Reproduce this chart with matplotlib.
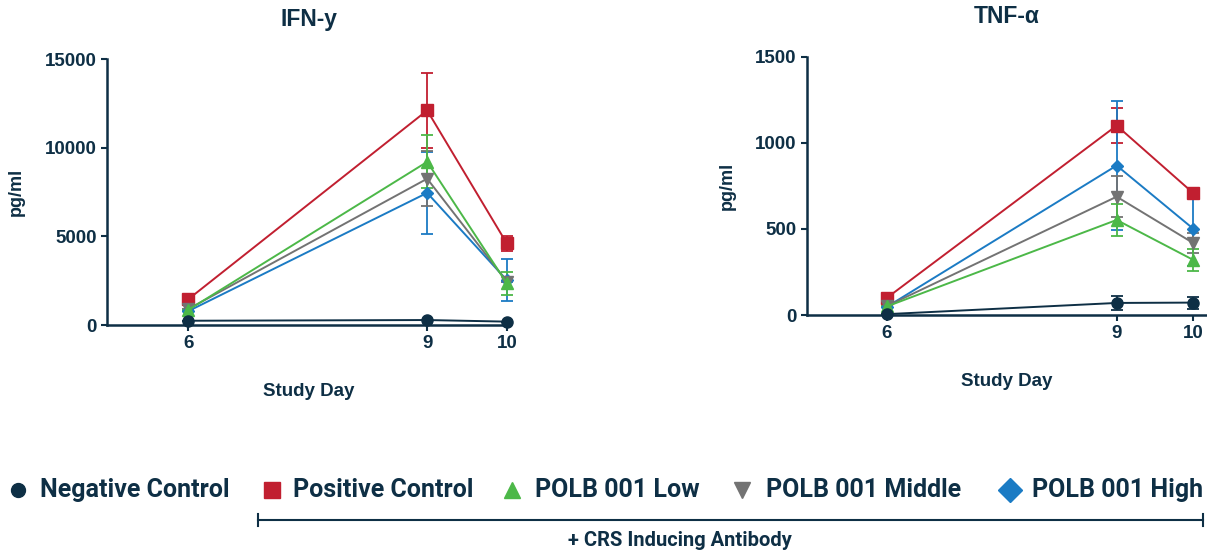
import matplotlib
matplotlib.use("Agg")
import matplotlib.pyplot as plt
from matplotlib import font_manager
from matplotlib.lines import Line2D

days = [6, 9, 10]
groups = ["Negative Control", "Positive Control", "POLB 001 Low",
          "POLB 001 Middle", "POLB 001 High"]

# IFN-y (pg/ml) mean and error per group, days 6, 9, 10
ifn_mean = {
    "Negative Control": [240, 280, 190],
    "Positive Control": [1450, 12100, 4600],
    "POLB 001 Low": [850, 9200, 2350],
    "POLB 001 Middle": [900, 8250, 2450],
    "POLB 001 High": [780, 7450, 2530],
}
ifn_err = {
    "Negative Control": [0, 0, 0],
    "Positive Control": [0, 2100, 400],
    "POLB 001 Low": [0, 1500, 650],
    "POLB 001 Middle": [0, 1550, 0],
    "POLB 001 High": [0, 2300, 1200],
}

# TNF-alpha (pg/ml)
tnf_mean = {
    "Negative Control": [5, 70, 72],
    "Positive Control": [100, 1100, 708],
    "POLB 001 Low": [50, 552, 320],
    "POLB 001 Middle": [52, 687, 418],
    "POLB 001 High": [48, 868, 501],
}
tnf_err = {
    "Negative Control": [0, 40, 35],
    "Positive Control": [0, 100, 0],
    "POLB 001 Low": [0, 95, 63],
    "POLB 001 Middle": [0, 120, 58],
    "POLB 001 High": [0, 375, 215],
}

colors = {
    "Negative Control": "#0e2f45",
    "Positive Control": "#c11f30",
    "POLB 001 Low": "#4cb848",
    "POLB 001 Middle": "#737373",
    "POLB 001 High": "#1b7bc4",
}
markers = {
    "Negative Control": "o",
    "Positive Control": "s",
    "POLB 001 Low": "^",
    "POLB 001 Middle": "v",
    "POLB 001 High": "D",
}
msizes = {"Negative Control": 8, "Positive Control": 8, "POLB 001 Low": 8,
          "POLB 001 Middle": 8, "POLB 001 High": 6}
draw_order = ["Positive Control", "POLB 001 High", "POLB 001 Middle",
              "POLB 001 Low", "Negative Control"]

navy = "#0e2f45"
installed = {f.name for f in font_manager.fontManager.ttflist}
narrow = "Liberation Sans Narrow" if "Liberation Sans Narrow" in installed else "Roboto"
plt.rcParams["font.family"] = ["Liberation Sans", "DejaVu Sans"]

W, H = 1207, 553
fig = plt.figure(figsize=(W / 100, H / 100), dpi=100)
ax1 = fig.add_axes([107 / W, (H - 325) / H, 403 / W, 266 / H])
ax2 = fig.add_axes([807 / W, (H - 315) / H, 400 / W, 258.3 / H])


def draw_panel(ax, means, errs, title, ymax, yticks, xlim):
    for g in draw_order:
        ax.errorbar(days, means[g], yerr=errs[g], color=colors[g],
                    marker=markers[g], markersize=msizes[g], lw=1.4,
                    capsize=4, elinewidth=1.3, capthick=1.3, clip_on=False)
    ax.set_xlim(*xlim)
    ax.set_ylim(0, ymax)
    ax.set_xticks(days)
    ax.set_yticks(yticks)
    ax.tick_params(colors=navy, labelsize=13.5, width=1.5, length=4)
    for lab in ax.get_xticklabels() + ax.get_yticklabels():
        lab.set_fontweight("bold")
    for s in ["top", "right"]:
        ax.spines[s].set_visible(False)
    for s in ["left", "bottom"]:
        ax.spines[s].set_color(navy)
        ax.spines[s].set_linewidth(1.8)
    ax.set_title(title, fontsize=16.5, fontweight="bold", color=navy, pad=24)
    ax.set_ylabel("pg/ml", fontsize=13, fontweight="bold", color=navy, labelpad=14)
    ax.set_xlabel("Study Day", fontsize=13.5, fontweight="bold", color=navy, labelpad=22)


draw_panel(ax1, ifn_mean, ifn_err, "IFN-y", 15000, [0, 5000, 10000, 15000], (4.98, 10.04))
draw_panel(ax2, tnf_mean, tnf_err, "TNF-α", 1500, [0, 500, 1000, 1500], (4.955, 10.18))

# legend row, placed entry by entry
leg_marker_x = [18, 272, 512, 742, 1010]
leg_text_x = [40, 293, 535, 766, 1032]
leg_y = 1 - 490 / H
for g, mx, tx in zip(groups, leg_marker_x, leg_text_x):
    fig.add_artist(Line2D([mx / W], [leg_y], ls="none", marker=markers[g],
                          color=colors[g],
                          markersize=10 if g == "Negative Control" else 12))
    fig.text(tx / W, leg_y, g, ha="left", va="center", fontsize=18,
             fontweight="bold", color=navy, family=narrow)

# bracket for antibody-treated groups
fig.add_artist(Line2D([258 / W, 1203 / W], [1 - 520 / H] * 2, color=navy, lw=1.5))
for xb in [258, 1203]:
    fig.add_artist(Line2D([xb / W] * 2, [1 - 514 / H, 1 - 526 / H], color=navy, lw=1.5))
fig.text(680 / W, 1 - 541 / H, "+ CRS Inducing Antibody", ha="center",
         va="center", fontsize=14.5, fontweight="bold", color=navy, family=narrow)

fig.savefig("out.png", dpi=100)
